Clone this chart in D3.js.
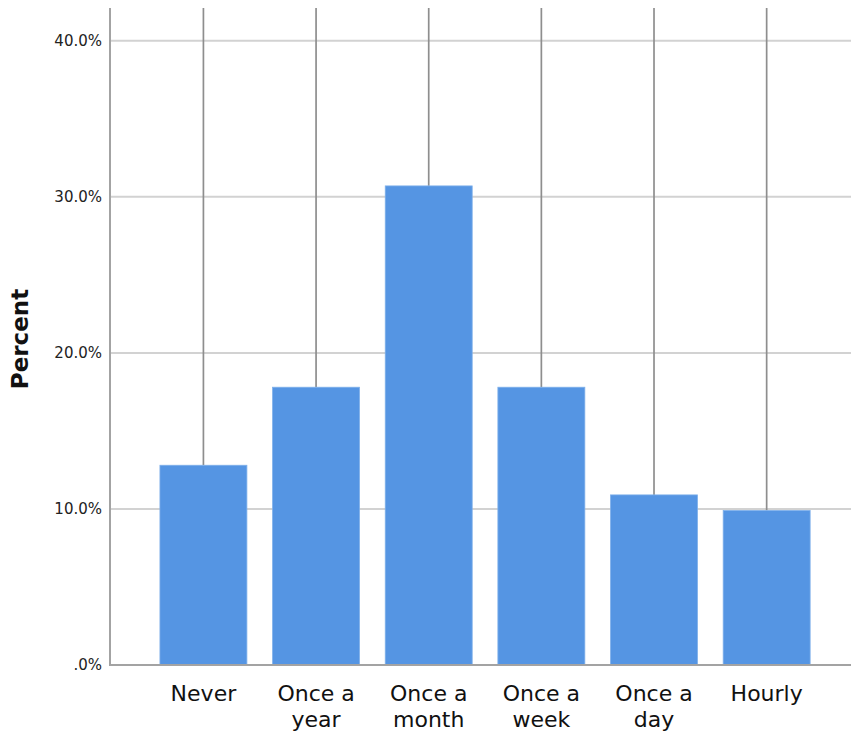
<!DOCTYPE html>
<html><head><meta charset="utf-8">
<script src="https://cdn.jsdelivr.net/npm/d3@7"></script>
<style>html,body{margin:0;padding:0;background:#fff;}svg{display:block;}</style>
</head><body>
<svg id="chart" width="851" height="734"></svg>
<script>
const categories = [["Never"], ["Once a", "year"], ["Once a", "month"], ["Once a", "week"], ["Once a", "day"], ["Hourly"]];
const percents = [12.8, 17.8, 30.7, 17.8, 10.9, 9.9];
const yTicks = [0, 10, 20, 30, 40];
const yLabel = "Percent";

const svg = d3.select("#chart");
const mLeft = 110, mRight = 851, mTop = 8, mBottom = 665;
const keys = categories.map(c => c.join(" "));

const x = d3.scaleBand().domain(keys).range([mLeft, mRight])
  .paddingInner(0.228).paddingOuter(0.403).align(0.55);
const y = d3.scaleLinear().domain([0, 42.1]).range([mBottom, mTop]);

// gridlines
svg.append("g").selectAll("line").data(yTicks.filter(d => d > 0)).join("line")
  .attr("x1", mLeft).attr("x2", mRight)
  .attr("y1", d => y(d)).attr("y2", d => y(d))
  .attr("stroke", "#d2d2d2").attr("stroke-width", 2);

// y axis
const yAxis = d3.axisLeft(y).tickValues(yTicks).tickSize(0).tickPadding(8)
  .tickFormat(d => d === 0 ? ".0%" : d3.format(".1f")(d) + "%");
const gy = svg.append("g").attr("transform", `translate(${mLeft},0)`).call(yAxis);
gy.select(".domain").remove();
gy.selectAll("text").attr("font-family", "DejaVu Sans").attr("font-size", 15).attr("fill", "#222");

// vertical lines from bar tops to top of plot
svg.append("g").selectAll("line").data(percents).join("line")
  .attr("x1", (d, i) => x(keys[i]) + x.bandwidth() / 2)
  .attr("x2", (d, i) => x(keys[i]) + x.bandwidth() / 2)
  .attr("y1", mTop).attr("y2", d => y(d))
  .attr("stroke", "#8e8e8e").attr("stroke-width", 1.7);

// bars
svg.append("g").selectAll("rect").data(percents).join("rect")
  .attr("x", (d, i) => x(keys[i]))
  .attr("width", x.bandwidth())
  .attr("y", d => y(d))
  .attr("height", d => y(0) - y(d))
  .attr("fill", "#5595e3")
  .attr("stroke", "#7fb0ea").attr("stroke-width", 0.8);

// axis lines
svg.append("line").attr("x1", mLeft).attr("x2", mLeft).attr("y1", mTop).attr("y2", mBottom + 1)
  .attr("stroke", "#a3a3a3").attr("stroke-width", 2);
svg.append("line").attr("x1", mLeft).attr("x2", mRight).attr("y1", mBottom).attr("y2", mBottom)
  .attr("stroke", "#a3a3a3").attr("stroke-width", 2);

// x axis labels
const xAxis = d3.axisBottom(x).tickSize(0).tickFormat("");
const gx = svg.append("g").attr("transform", `translate(0,${mBottom})`).call(xAxis);
gx.select(".domain").remove();
gx.selectAll(".tick").each(function(d, i) {
  const t = d3.select(this).append("text")
    .attr("text-anchor", "middle")
    .attr("font-family", "DejaVu Sans").attr("font-size", 22).attr("fill", "#111");
  categories[i].forEach((line, j) => {
    t.append("tspan").attr("x", 0).attr("y", 36 + j * 26).text(line);
  });
});

// y title
svg.append("text")
  .attr("transform", `translate(28,339) rotate(-90)`)
  .attr("text-anchor", "middle")
  .attr("font-family", "DejaVu Sans").attr("font-weight", "bold").attr("font-size", 23)
  .attr("fill", "#111").text(yLabel);
</script>
</body></html>
